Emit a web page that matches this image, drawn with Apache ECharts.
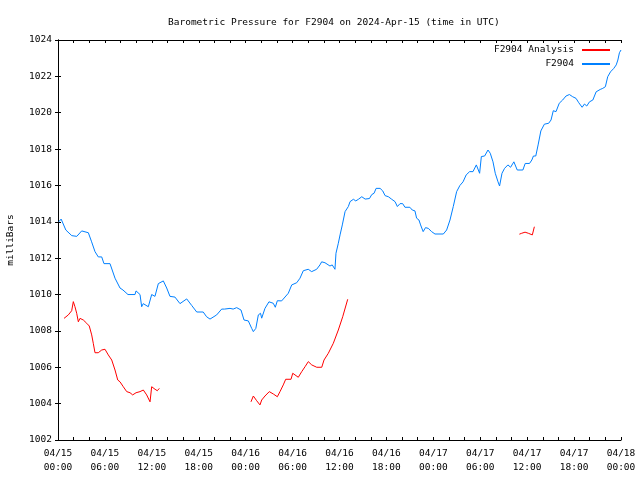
<!DOCTYPE html>
<html>
<head>
<meta charset="utf-8">
<script src="https://cdn.jsdelivr.net/npm/echarts@6/dist/echarts.min.js"></script>
<style>html,body{margin:0;padding:0;background:#fff;}#c{width:640px;height:480px;}</style>
</head>
<body>
<div id="c"></div>
<script>
// Hours since 2024-04-15 00:00 UTC and pressure (mb)
var f2904Hours = [0.1,0.4,1.0,1.76,2.4,3.03,3.88,4.3,4.73,5.15,5.59,5.88,6.65,7.29,7.93,8.31,8.95,9.85,9.98,10.49,10.7,10.9,11.55,11.98,12.4,12.83,13.47,13.9,14.32,14.96,15.6,16.46,17.1,17.74,18.57,19.0,19.44,20.29,20.93,21.3,22.0,22.4,22.85,23.4,23.79,24.34,24.77,24.98,25.3,25.62,25.9,26.05,26.47,26.98,27.53,27.79,28.05,28.6,29.45,29.89,30.53,30.95,31.37,32.0,32.44,33.08,33.5,33.72,34.14,34.78,35.07,35.42,35.55,35.85,36.07,36.36,36.71,37.13,37.35,37.78,38.08,38.42,38.85,39.28,39.83,40.13,40.42,40.68,41.19,41.53,41.83,42.25,42.68,43.1,43.4,43.74,44.08,44.37,45.0,45.3,45.65,45.86,46.16,46.37,46.7,47.0,47.35,47.78,48.21,49.28,49.7,50.13,50.55,50.98,51.4,51.8,52.2,52.64,53.07,53.5,53.92,54.14,54.56,54.99,55.28,55.63,55.92,56.27,56.47,56.78,57.11,57.54,57.88,58.3,58.73,59.45,59.75,60.3,60.6,60.8,61.1,61.4,61.75,62.2,62.75,63.05,63.34,63.69,63.9,64.1,64.54,64.97,65.4,65.82,66.25,66.6,67.03,67.33,67.62,67.97,68.4,68.82,69.03,69.34,69.67,70.0,70.3,70.66,71.08,71.39,71.6,71.8,72.0];
var f2904Pressure = [1014.0,1014.15,1013.55,1013.24,1013.2,1013.5,1013.4,1012.9,1012.36,1012.07,1012.07,1011.7,1011.7,1010.9,1010.36,1010.25,1010.0,1010.0,1010.2,1010.0,1009.33,1009.5,1009.33,1010.0,1009.9,1010.6,1010.75,1010.36,1009.9,1009.86,1009.5,1009.76,1009.4,1009.04,1009.04,1008.78,1008.65,1008.88,1009.2,1009.2,1009.24,1009.2,1009.28,1009.15,1008.6,1008.55,1008.14,1007.96,1008.14,1008.88,1008.97,1008.7,1009.24,1009.6,1009.52,1009.3,1009.66,1009.65,1010.07,1010.53,1010.65,1010.9,1011.31,1011.39,1011.26,1011.39,1011.63,1011.8,1011.75,1011.57,1011.63,1011.39,1012.27,1012.82,1013.28,1013.83,1014.56,1014.84,1015.11,1015.24,1015.15,1015.24,1015.38,1015.25,1015.28,1015.5,1015.57,1015.84,1015.84,1015.7,1015.44,1015.38,1015.24,1015.11,1014.84,1015.0,1015.0,1014.8,1014.8,1014.65,1014.6,1014.2,1014.1,1013.83,1013.46,1013.68,1013.64,1013.46,1013.33,1013.33,1013.55,1014.1,1014.84,1015.66,1016.0,1016.2,1016.58,1016.76,1016.76,1017.13,1016.67,1017.59,1017.62,1017.95,1017.77,1017.3,1016.67,1016.2,1015.97,1016.67,1016.94,1017.13,1017.0,1017.3,1016.85,1016.85,1017.21,1017.21,1017.4,1017.62,1017.62,1018.23,1019.0,1019.37,1019.42,1019.6,1020.11,1020.06,1019.97,1020.52,1020.7,1020.92,1021.0,1020.88,1020.79,1020.55,1020.3,1020.48,1020.37,1020.6,1020.7,1021.15,1021.06,1021.28,1021.34,1021.43,1021.98,1022.25,1022.44,1022.63,1022.9,1023.3,1023.45];

var analysisHours1 = [0.77,1.32,1.75,1.96,2.17,2.39,2.6,2.81,3.03,3.24,3.67,4.0,4.31,4.51,4.73,5.15,5.59,6.01,6.43,6.87,7.29,7.64,7.93,8.35,8.79,9.21,9.55,9.98,10.49,10.91,11.34,11.77,11.98,12.41,12.7,12.96];
var analysisPressure1 = [1008.69,1008.88,1009.11,1009.61,1009.33,1008.97,1008.5,1008.69,1008.72,1008.6,1008.42,1008.27,1007.78,1007.32,1006.8,1006.8,1006.95,1006.99,1006.68,1006.4,1005.85,1005.3,1005.2,1004.93,1004.66,1004.6,1004.48,1004.6,1004.66,1004.75,1004.48,1004.1,1004.93,1004.79,1004.71,1004.84];
var analysisHours2 = [24.68,24.98,25.41,25.83,26.05,26.47,27.02,27.54,28.05,28.39,28.81,29.12,29.8,30.02,30.31,30.73,31.17,31.59,32.01,32.45,33.09,33.73,34.02,34.57,35.21,35.85,36.41,37.05];
var analysisPressure2 = [1004.1,1004.42,1004.16,1003.93,1004.2,1004.42,1004.66,1004.53,1004.38,1004.66,1005.03,1005.34,1005.34,1005.67,1005.58,1005.45,1005.76,1006.03,1006.31,1006.13,1006.0,1006.0,1006.4,1006.77,1007.32,1008.05,1008.78,1009.74];
var analysisHours3 = [59.0,59.3,59.73,60.15,60.66,60.79,60.92];
var analysisPressure3 = [1013.32,1013.37,1013.43,1013.37,1013.28,1013.35,1013.73];

var dayLabels = ['04/15','04/16','04/17','04/18'];
var yTicks = [1002,1004,1006,1008,1010,1012,1014,1016,1018,1020,1022,1024];

function zip(a, b) { return a.map(function (v, i) { return [v, b[i]]; }); }

var FONT = 'DejaVu Sans Mono';
var chart = echarts.init(document.getElementById('c'), null, {renderer: 'canvas'});

var redStyle = {type: 'line', name: 'F2904 Analysis', symbol: 'none', color: '#ff0000',
  lineStyle: {color: '#ff0000', width: 1}, animation: false};

function mkSeries(base, data) {
  var s = {}; for (var k in base) s[k] = base[k]; s.data = data; return s;
}

var axisCommon = {
  axisLine: {show: true, lineStyle: {color: '#000', width: 1}},
  axisTick: {show: true, inside: true, length: 3, lineStyle: {color: '#000'}},
  splitLine: {show: false}
};

chart.setOption({
  animation: false,
  backgroundColor: '#fff',
  textStyle: {fontFamily: FONT},
  title: {
    text: 'Barometric Pressure for F2904 on 2024-Apr-15 (time in UTC)',
    left: 163, top: 13,
    textStyle: {fontFamily: FONT, fontSize: 9.5, fontWeight: 'normal', color: '#000'}
  },
  legend: {
    data: ['F2904 Analysis', 'F2904'],
    orient: 'vertical', align: 'right',
    right: 25, top: 39,
    itemWidth: 28, itemHeight: 2, itemGap: 2,
    icon: 'rect',
    textStyle: {fontFamily: FONT, fontSize: 9.5, color: '#000', lineHeight: 12, padding: [0, 3, 0, 0]}
  },
  grid: {left: 58, right: 19, top: 40, bottom: 40, containLabel: false, outerBoundsMode: 'none'},
  xAxis: [
    Object.assign({
      type: 'value', min: 0, max: 72, interval: 2, position: 'bottom',
      axisLabel: {
        fontFamily: FONT, fontSize: 9.5, color: '#000', margin: 6, lineHeight: 14.5,
        formatter: function (v) {
          if (v % 6 !== 0) return '';
          var d = Math.floor(v / 24);
          var h = v % 24;
          return dayLabels[d] + '\n' + (h < 10 ? '0' : '') + h + ':00';
        }
      }
    }, axisCommon),
    Object.assign({
      type: 'value', min: 0, max: 72, interval: 2, position: 'top',
      axisLabel: {show: false}
    }, axisCommon)
  ],
  yAxis: [
    Object.assign({
      type: 'value', min: yTicks[0], max: yTicks[yTicks.length - 1], interval: 2, position: 'left',
      name: 'milliBars', nameLocation: 'middle', nameRotate: 90, nameGap: 42,
      nameTextStyle: {fontFamily: FONT, fontSize: 9.5, color: '#000'},
      axisLabel: {fontFamily: FONT, fontSize: 9.5, color: '#000', margin: 6,
        formatter: function (v) { return String(v); }}
    }, axisCommon),
    Object.assign({
      type: 'value', min: yTicks[0], max: yTicks[yTicks.length - 1], interval: 2, position: 'right',
      axisLabel: {show: false}
    }, axisCommon)
  ],
  series: [
    mkSeries(redStyle, zip(analysisHours1, analysisPressure1)),
    mkSeries(redStyle, zip(analysisHours2, analysisPressure2)),
    mkSeries(redStyle, zip(analysisHours3, analysisPressure3)),
    {type: 'line', name: 'F2904', symbol: 'none', color: '#0080ff',
     lineStyle: {color: '#0080ff', width: 1}, data: zip(f2904Hours, f2904Pressure)}
  ]
});
</script>
</body>
</html>
